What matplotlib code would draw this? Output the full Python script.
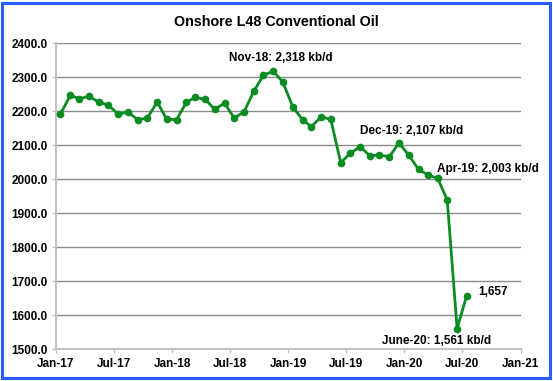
import datetime as dt
import matplotlib
matplotlib.use('Agg')
import matplotlib.pyplot as plt
import matplotlib.dates as mdates
from matplotlib.patches import Rectangle
from matplotlib.ticker import FuncFormatter, MultipleLocator

# monthly output, kb/d, Jan-17 .. Jul-20
oil_kbd = [2192, 2247, 2237, 2244, 2227, 2218, 2192, 2198, 2175, 2180, 2227, 2177,
           2175, 2227, 2241, 2235, 2206, 2224, 2180, 2198, 2259, 2306, 2318,
           2286, 2214, 2175, 2155, 2184, 2176, 2049, 2076, 2096, 2069, 2072, 2066, 2107,
           2071, 2029, 2013, 2003, 1939, 1561, 1657]
start_year, start_month = 2017, 1

tick_labels = ['Jan-17', 'Jul-17', 'Jan-18', 'Jul-18', 'Jan-19',
               'Jul-19', 'Jan-20', 'Jul-20', 'Jan-21']

notes = [
    ('Nov-18: 2,318 kb/d', dt.date(2018, 12, 10), 2357, 'center'),
    ('Dec-19: 2,107 kb/d', dt.date(2019, 8, 16), 2143, 'left'),
    ('Apr-19: 2,003 kb/d', dt.date(2020, 4, 12), 2030, 'left'),
    ('1,657', dt.date(2020, 8, 19), 1669, 'left'),
    ('June-20: 1,561 kb/d', dt.date(2019, 10, 22), 1524, 'left'),
]

GREEN = '#0b8c23'
GRID = '#8c8c8c'
AXIS = '#c4c4c4'


def month_dates(n, y, m):
    out = []
    for i in range(n):
        mm = m - 1 + i
        out.append(dt.date(y + mm // 12, mm % 12 + 1, 15))
    return out


def tick_dates(labels):
    out = []
    for lab in labels:
        mon, yr = lab.split('-')
        out.append(dt.date(2000 + int(yr), 1 if mon == 'Jan' else 7, 1))
    return out


def plot_oil():
    plt.rcParams['font.family'] = ['Liberation Sans', 'DejaVu Sans']
    plt.rcParams['font.weight'] = 'bold'

    fig = plt.figure(figsize=(5.53, 3.81), dpi=100)
    ax = fig.add_axes([0.1013, 0.0832, 0.8403, 0.8032])

    dates = month_dates(len(oil_kbd), start_year, start_month)
    ax.plot(dates, oil_kbd, color=GREEN, linewidth=2.0, marker='o',
            markersize=4.5, zorder=3)

    ax.set_ylim(1500, 2400)
    ax.yaxis.set_major_locator(MultipleLocator(100))
    ax.yaxis.set_major_formatter(FuncFormatter(lambda v, p: '%.1f' % v))

    ticks = tick_dates(tick_labels)
    ax.set_xlim(ticks[0], ticks[-1])
    ax.set_xticks(ticks)
    ax.set_xticklabels(tick_labels)

    ax.grid(axis='y', color=GRID, linewidth=1.0)
    ax.set_axisbelow(True)
    for s in ['top', 'right']:
        ax.spines[s].set_visible(False)
    for s in ['left', 'bottom']:
        ax.spines[s].set_color(AXIS)
        ax.spines[s].set_linewidth(1.5)
    ax.tick_params(axis='both', colors=AXIS, labelcolor='black',
                   labelsize=8.5, length=3, width=1.0, pad=3)
    for lab in ax.get_xticklabels() + ax.get_yticklabels():
        lab.set_fontweight('bold')

    for txt, x, y, ha in notes:
        ax.text(x, y, txt, ha=ha, va='center', fontsize=8.5,
                fontweight='bold', color='black', clip_on=False)

    fig.text(0.499, 0.942, 'Onshore L48 Conventional Oil', ha='center',
             va='center', fontsize=10.3, fontweight='bold')

    # blue chart frame
    fig.patches.append(Rectangle((1.5 / 553, 3.5 / 381), 548 / 553, 375 / 381,
                                 transform=fig.transFigure, fill=False,
                                 edgecolor='#2a5cff', linewidth=2.2))

    fig.savefig('out.png', dpi=100)


if __name__ == '__main__':
    plot_oil()
